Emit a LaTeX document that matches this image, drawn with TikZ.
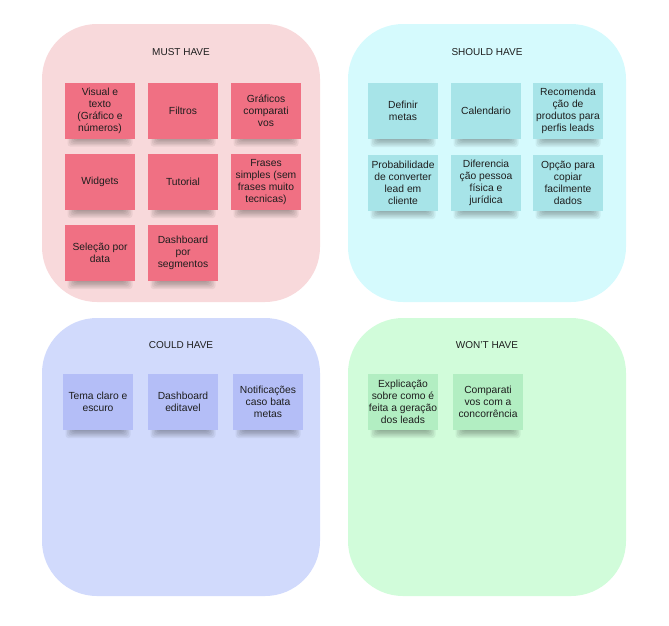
\documentclass[tikz,border=0pt]{standalone}
\usepackage{fontspec}
\setmainfont{Liberation Sans}

\definecolor{mustbg}{RGB}{248,217,219}
\definecolor{mustnote}{RGB}{240,112,131}
\definecolor{shouldbg}{RGB}{213,250,253}
\definecolor{shouldnote}{RGB}{167,228,232}
\definecolor{couldbg}{RGB}{209,218,252}
\definecolor{couldnote}{RGB}{180,190,247}
\definecolor{wontbg}{RGB}{209,252,218}
\definecolor{wontnote}{RGB}{178,238,194}
\definecolor{ink}{RGB}{30,30,30}

\tikzset{
  panel/.style={fill=#1, rounded corners=55pt},
  title/.style={text=ink, font=\fontsize{10}{11}\selectfont},
  sticky/.style={fill=#1, minimum width=70pt, minimum height=56pt, inner sep=1pt,
    align=center, text=ink, font=\fontsize{10.3}{12}\selectfont},
  stickyshadow/.style={fill=black, opacity=0.055, rounded corners=3pt}
}

% name, colour, position, text
\newcommand\sticky[4]{%
  \foreach \k in {1,...,6}
    \fill[stickyshadow] ([shift={(-34+1.5*\k,20)}]#3) rectangle ([shift={(34-1.5*\k,37.5-1.4*\k)}]#3);
  \node[sticky=#2] (#1) at (#3) {#4};
}

\begin{document}
\begin{tikzpicture}[x=1pt, y=-1pt]
\useasboundingbox (0,0) rectangle (669,625);

% panels
\fill[panel=mustbg] (42,24) rectangle (320,302);
\fill[panel=shouldbg] (348,24) rectangle (626,302);
\fill[panel=couldbg] (42,318) rectangle (320,596);
\fill[panel=wontbg] (348,318) rectangle (626,596);

\node[title] (must) at (181,52) {MUST HAVE};
\node[title] (should) at (487,52) {SHOULD HAVE};
\node[title] (could) at (181,345) {COULD HAVE};
\node[title] (wont) at (487,345) {WON'T HAVE};

% must have
\sticky{visual}{mustnote}{100,110.5}{Visual e\\texto\\(Gráfico e\\números)}
\sticky{filtros}{mustnote}{183,110.5}{Filtros}
\sticky{graficos}{mustnote}{266,110.5}{Gráficos\\comparati\\vos}
\sticky{widgets}{mustnote}{100,182}{Widgets}
\sticky{tutorial}{mustnote}{183,182}{Tutorial}
\sticky{frases}{mustnote}{266,182}{Frases\\simples (sem\\frases muito\\tecnicas)}
\sticky{selecao}{mustnote}{100,253}{Seleção por\\data}
\sticky{segmentos}{mustnote}{183,253}{Dashboard\\por\\segmentos}

% should have
\sticky{metas}{shouldnote}{403,111}{Definir\\metas}
\sticky{calendario}{shouldnote}{486,111}{Calendario}
\sticky{recomenda}{shouldnote}{568,111}{Recomenda\\ção de\\produtos para\\perfis leads}
\sticky{probab}{shouldnote}{403,183}{Probabilidade\\de converter\\lead em\\cliente}
\sticky{diferencia}{shouldnote}{486,183}{Diferencia\\ção pessoa\\física e\\jurídica}
\sticky{copiar}{shouldnote}{568,183}{Opção para\\copiar\\facilmente\\dados}

% could have
\sticky{tema}{couldnote}{98,402}{Tema claro e\\escuro}
\sticky{editavel}{couldnote}{183,402}{Dashboard\\editavel}
\sticky{notif}{couldnote}{268,402}{Notificações\\caso bata\\metas}

% won't have
\sticky{explica}{wontnote}{403,402}{Explicação\\sobre como é\\feita a geração\\dos leads}
\sticky{concorr}{wontnote}{488,402}{Comparati\\vos com a\\concorrência}
\end{tikzpicture}
\end{document}
